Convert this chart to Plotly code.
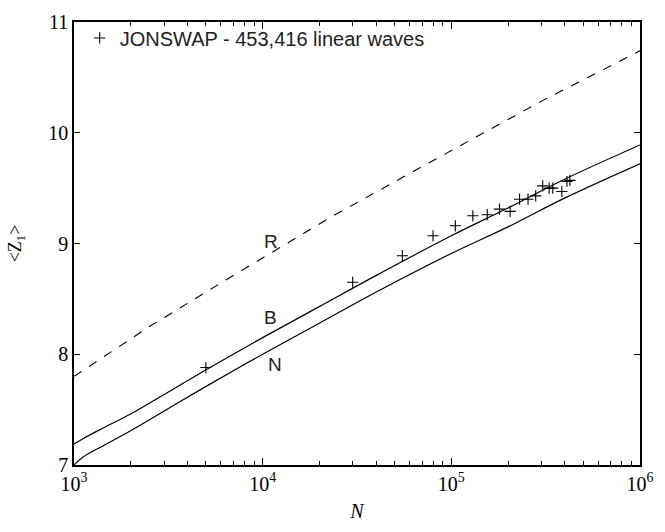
import math
import plotly.graph_objects as go

# Observed data points (JONSWAP simulation)
N_obs = [5000, 30000, 55000, 80000, 105000, 130000, 155000, 180000, 205000,
         230000, 255000, 280000, 305000, 330000, 345000, 385000, 410000, 425000]
Z_obs = [7.88, 8.65, 8.89, 9.07, 9.16, 9.25, 9.26, 9.31, 9.29,
         9.40, 9.40, 9.43, 9.52, 9.50, 9.50, 9.47, 9.56, 9.57]

# Curves
N_curve = [1000, 1122, 1413, 1995, 3162, 5012, 10000, 19953, 39811,
           100000, 199526, 398107, 1000000]
Z_B = [7.19, 7.24, 7.33, 7.46, 7.66, 7.86, 8.15, 8.43, 8.71, 9.07, 9.32, 9.58, 9.89]
Z_N = [7.00, 7.075, 7.17, 7.31, 7.51, 7.71, 8.00, 8.28, 8.56, 8.91, 9.15, 9.41, 9.72]

N_R = [1000, 2512, 6516, 22542, 69183, 304089, 1000000]
Z_R = [7.80, 8.25, 8.68, 9.23, 9.69, 10.29, 10.74]

curve_labels = ["R", "B", "N"]
label_N = [11040, 11040, 11600]
label_Z = [9.02, 8.33, 7.91]

legend_text = "JONSWAP - 453,416 linear waves"
x_major = [1e3, 1e4, 1e5, 1e6]
x_major_text = ["10<sup>3</sup>", "10<sup>4</sup>", "10<sup>5</sup>", "10<sup>6</sup>"]
x_minor = [m * 10 ** e for e in (3, 4, 5) for m in range(2, 10)]
y_ticks = [7, 8, 9, 10, 11]

fig = go.Figure()
fig.add_trace(go.Scatter(x=N_R, y=Z_R, mode="lines", line=dict(color="black", width=1.1, dash="dash"),
                         showlegend=False, hoverinfo="skip"))
fig.add_trace(go.Scatter(x=N_curve, y=Z_B, mode="lines", line=dict(color="black", width=1.2),
                         showlegend=False, line_shape="spline"))
fig.add_trace(go.Scatter(x=N_curve, y=Z_N, mode="lines", line=dict(color="black", width=1.2),
                         showlegend=False, line_shape="spline"))
fig.add_trace(go.Scatter(x=N_obs, y=Z_obs, mode="markers", name=legend_text,
                         marker=dict(symbol="cross-thin", size=8, line=dict(color="black", width=1.1),
                                     color="black")))

for t, x, y in zip(curve_labels, label_N, label_Z):
    fig.add_annotation(x=math.log10(x), y=y, xref="x", yref="y", text=t, showarrow=False,
                       font=dict(family="Liberation Sans, Arial", size=19, color="#222"))

axis_font = dict(family="Liberation Serif, Times New Roman", size=20, color="black")

fig.update_xaxes(type="log", range=[3, 6], tickvals=x_major, ticktext=x_major_text,
                 ticks="inside", ticklen=7, tickwidth=1, tickcolor="black",
                 minor=dict(tickvals=x_minor, ticks="inside", ticklen=4, tickwidth=1, tickcolor="black"),
                 showline=True, linecolor="black", linewidth=1.5, mirror="ticks",
                 showgrid=False, zeroline=False, tickfont=axis_font,
                 title=dict(text="<i>N</i>", font=dict(family="Liberation Serif, Times New Roman",
                                                        size=20, color="black"), standoff=10))
fig.update_yaxes(range=[7, 11], tickvals=y_ticks, ticks="inside", ticklen=6, tickwidth=1,
                 tickcolor="black", showline=True, linecolor="black", linewidth=1.5, mirror="ticks",
                 showgrid=False, zeroline=False, tickfont=axis_font,
                 title=dict(text="&lt;Z<sub>1</sub>&gt;", font=dict(family="Liberation Serif, Times New Roman",
                                                                    size=18, color="black"), standoff=22))

fig.update_layout(width=665, height=532, margin=dict(l=74, r=16, t=11, b=67),
                  plot_bgcolor="white", paper_bgcolor="white",
                  showlegend=True,
                  legend=dict(x=0.01, y=1.008, xanchor="left", yanchor="top", bgcolor="rgba(0,0,0,0)",
                              font=dict(family="Liberation Sans, Arial", size=20, color="#222"),
                              itemwidth=30))

fig.write_html("out.html")
